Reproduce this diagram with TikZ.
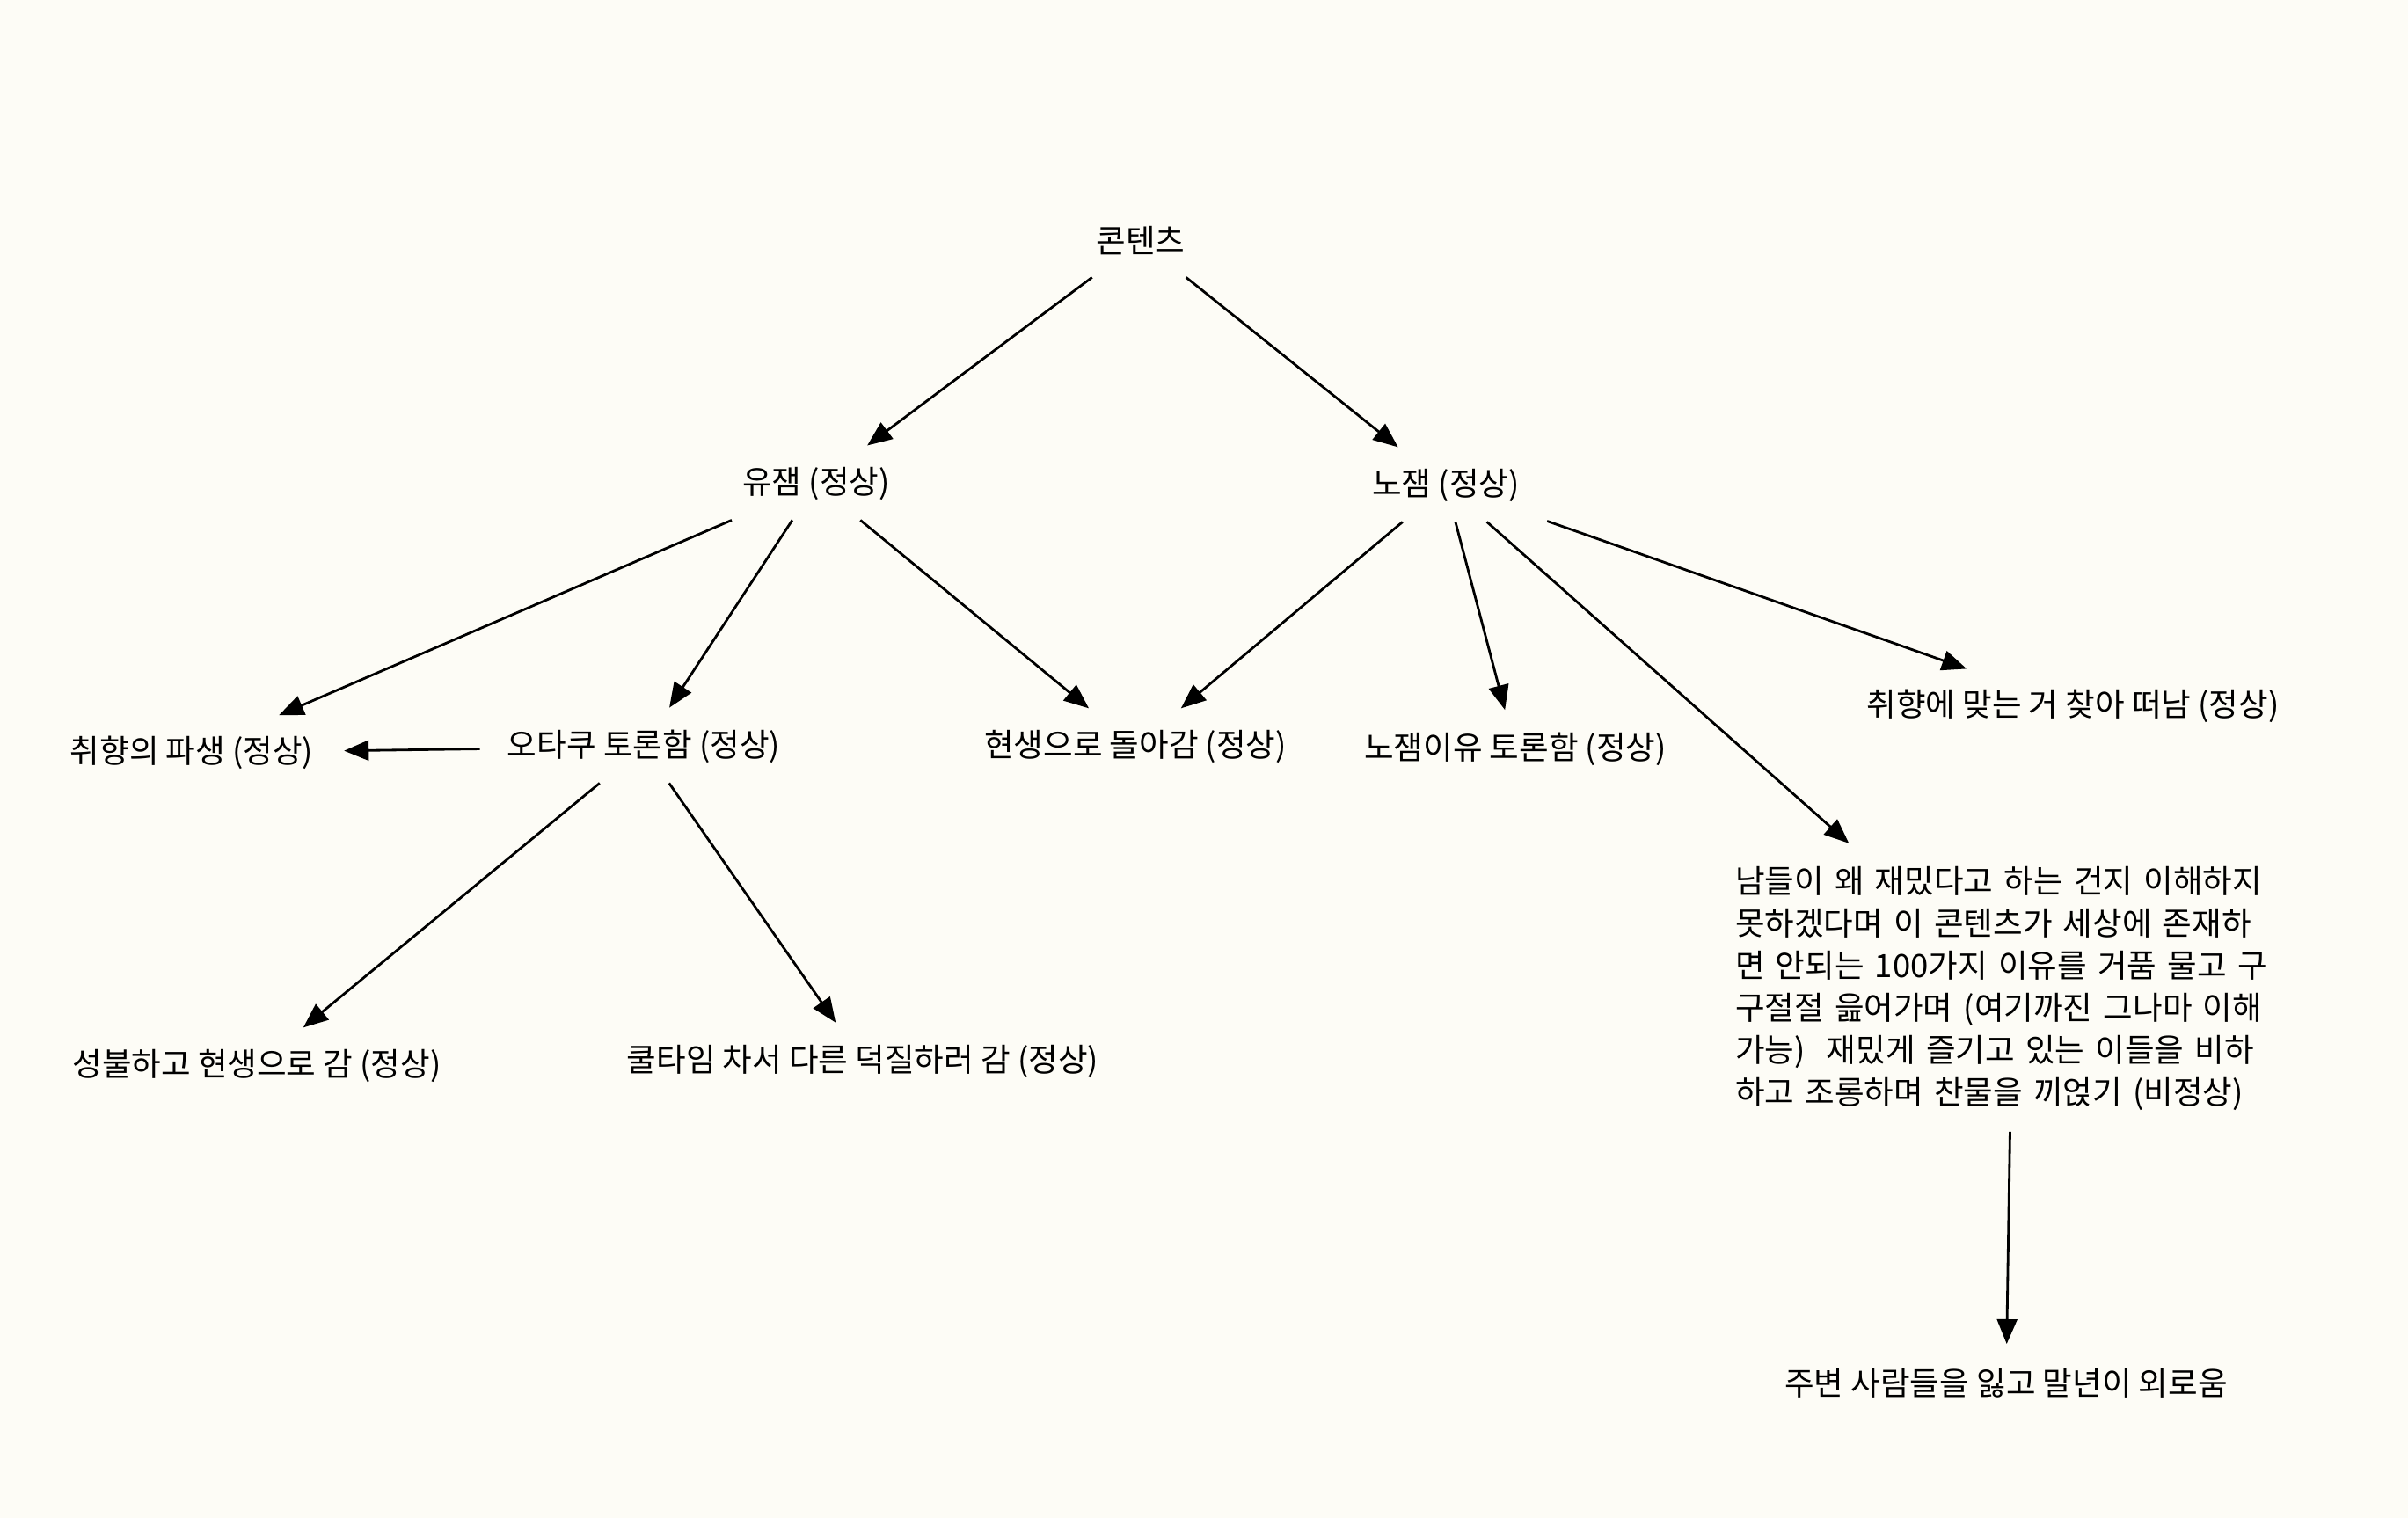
\documentclass[tikz,border=0pt]{standalone}
\usepackage{fontspec}
\setmainfont{Noto Sans CJK KR}
\usepackage{tikz}
\usetikzlibrary{positioning, arrows.meta}
\usepackage{xcolor}
\definecolor{paper}{HTML}{FDFCF6}

\begin{document}
\begin{tikzpicture}[shorten >=1pt,on grid,auto,line width=0.8pt,
    >={Triangle[length=8pt,width=6.5pt]},
    every node/.style={font=\fontsize{10.4}{13.7}\selectfont},
    topic/.style={minimum height=0.8cm,inner xsep=0.3cm},
    rantbox/.style={text width=6.3cm,align=left,inner xsep=0pt,minimum height=3.23cm}]
    \fill[paper] (0,0) rectangle (27.38,-17.26);
    \useasboundingbox (0,0) rectangle (27.38,-17.26);

    \node[topic]   (content)  at (12.97,-2.74) {콘텐츠};
    \node[topic]   (yuJam)    [below left=2.76cm and 3.69cm of content] {유잼 (정상)};
    \node[topic]   (noJam)    [below right=2.78cm and 3.47cm of content] {노잼 (정상)};
    \node[topic]   (otaku)    [below left=2.99cm and 1.96cm of yuJam] {오타쿠 토론함 (정상)};
    \node[topic]   (derive)   [below left=0.07cm and 5.14cm of otaku] {취향의 파생 (정상)};
    \node[topic]   (backLife) [below right=2.99cm and 3.63cm of yuJam] {현생으로 돌아감 (정상)};
    \node[topic]   (noJamWhy) [below right=3.00cm and 0.79cm of noJam] {노잼이유 토론함 (정상)};
    \node[topic]   (leave)    [below right=2.51cm and 7.13cm of noJam] {취향에 맞는 거 찾아 떠남 (정상)};
    \node[topic]   (buddha)   [below left=3.63cm and 4.40cm of otaku] {성불하고 현생으로 감 (정상)};
    \node[topic]   (coolTime) [below right=3.58cm and 2.49cm of otaku] {쿨타임 차서 다른 덕질하러 감 (정상)};
    \node[rantbox] (rant)     [below right=5.72cm and 6.44cm of noJam]
        {남들이 왜 재밌다고 하는 건지 이해하지\\
         못하겠다며 이 콘텐츠가 세상에 존재하\\
         면 안되는 100가지 이유를 거품 물고 구\\
         구절절 읊어가며 (여기까진 그나마 이해\\
         가능)\ \ 재밌게 즐기고 있는 이들을 비하\\
         하고 조롱하며 찬물을 끼얹기 (비정상)};
    \node[topic]   (lonely)   [below left=4.49cm and 0.07cm of rant] {주변 사람들을 잃고 말년이 외로움};

    \path[->]
        (content) edge (yuJam)
                  edge (noJam)
        (yuJam)   edge (derive)
                  edge (otaku)
                  edge (backLife)
        (noJam)   edge (backLife)
                  edge (noJamWhy)
                  edge (rant)
                  edge (leave)
        (otaku)   edge (derive)
                  edge (buddha)
                  edge (coolTime)
        (rant)    edge (lonely);
\end{tikzpicture}
\end{document}
